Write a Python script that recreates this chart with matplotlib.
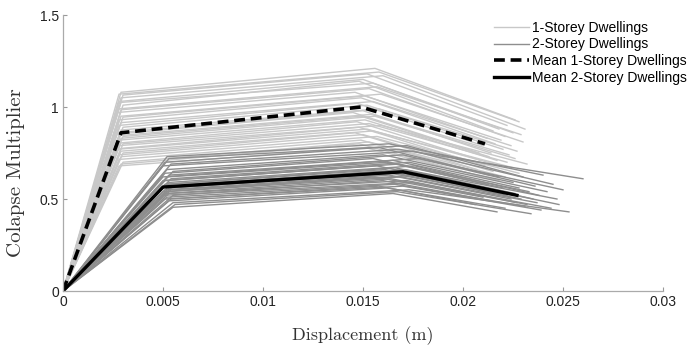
import numpy as np
import matplotlib
matplotlib.use("Agg")
from matplotlib import pyplot as plt

# 1-storey dwellings: yield point, peak point, end point of each pushover curve
one_d1 = [0.0029, 0.0028, 0.0030, 0.0029, 0.0028, 0.0029, 0.0030, 0.0028, 0.0029, 0.0027, 0.0029, 0.0030,
          0.0028, 0.0029, 0.0028, 0.0030, 0.0029, 0.0027, 0.0029, 0.0028, 0.0030, 0.0029, 0.0028, 0.0029,
          0.0030, 0.0028, 0.0029, 0.0027, 0.0029, 0.0030, 0.0028, 0.0029, 0.0028, 0.0030, 0.0029, 0.0028]
one_y1 = [1.08, 1.07, 1.065, 1.05, 1.03, 1.025, 1.01, 0.99, 0.985, 0.97, 0.95, 0.945,
          0.93, 0.915, 0.90, 0.89, 0.875, 0.86, 0.855, 0.845, 0.84, 0.83, 0.82, 0.805,
          0.80, 0.79, 0.775, 0.77, 0.76, 0.75, 0.74, 0.73, 0.715, 0.70, 0.69, 0.68]
one_d2 = [0.0156, 0.0158, 0.0152, 0.0160, 0.0150, 0.0155, 0.0148, 0.0157, 0.0153, 0.0146, 0.0159, 0.0151,
          0.0149, 0.0155, 0.0147, 0.0152, 0.0158, 0.0150, 0.0145, 0.0154, 0.0149, 0.0156, 0.0151, 0.0147,
          0.0153, 0.0159, 0.0148, 0.0152, 0.0155, 0.0146, 0.0150, 0.0157, 0.0149, 0.0153, 0.0148, 0.0151]
one_y2 = [1.21, 1.19, 1.18, 1.17, 1.15, 1.13, 1.14, 1.11, 1.10, 1.08, 1.07, 1.06,
          1.05, 1.03, 1.02, 1.01, 0.99, 0.98, 0.97, 0.96, 0.95, 0.95, 0.93, 0.92,
          0.91, 0.90, 0.89, 0.88, 0.87, 0.86, 0.85, 0.84, 0.82, 0.81, 0.80, 0.78]
one_d3 = [0.0226, 0.0228, 0.0222, 0.0231, 0.0218, 0.0225, 0.0215, 0.0229, 0.0221, 0.0212, 0.0230, 0.0219,
          0.0216, 0.0224, 0.0210, 0.0220, 0.0227, 0.0214, 0.0208, 0.0223, 0.0213, 0.0226, 0.0217, 0.0209,
          0.0222, 0.0232, 0.0211, 0.0219, 0.0225, 0.0207, 0.0215, 0.0228, 0.0213, 0.0221, 0.0210, 0.0218]
one_y3 = [0.93, 0.92, 0.90, 0.88, 0.88, 0.86, 0.87, 0.85, 0.84, 0.83, 0.81, 0.82,
          0.80, 0.79, 0.79, 0.77, 0.76, 0.75, 0.75, 0.74, 0.73, 0.72, 0.71, 0.71,
          0.70, 0.69, 0.68, 0.68, 0.67, 0.66, 0.65, 0.64, 0.63, 0.62, 0.62, 0.60]

# 2-storey dwellings
two_d1 = [0.0052, 0.0053, 0.0051, 0.0054, 0.0050, 0.0052, 0.0055, 0.0051, 0.0053, 0.0050, 0.0052, 0.0054,
          0.0051, 0.0050, 0.0053, 0.0052, 0.0051, 0.0055, 0.0050, 0.0052, 0.0053, 0.0051, 0.0054, 0.0050,
          0.0052, 0.0051, 0.0053, 0.0055, 0.0050, 0.0052, 0.0054, 0.0051, 0.0053, 0.0055, 0.0056, 0.0055]
two_y1 = [0.73, 0.72, 0.70, 0.69, 0.68, 0.66, 0.65, 0.64, 0.63, 0.62, 0.62, 0.61,
          0.60, 0.60, 0.59, 0.58, 0.58, 0.57, 0.57, 0.56, 0.56, 0.55, 0.55, 0.54,
          0.54, 0.53, 0.53, 0.52, 0.52, 0.51, 0.50, 0.50, 0.49, 0.48, 0.47, 0.455]
two_d2 = [0.0163, 0.0172, 0.0158, 0.0168, 0.0175, 0.0160, 0.0170, 0.0155, 0.0178, 0.0165, 0.0162, 0.0173,
          0.0168, 0.0157, 0.0176, 0.0166, 0.0161, 0.0171, 0.0159, 0.0174, 0.0167, 0.0163, 0.0178, 0.0156,
          0.0169, 0.0164, 0.0172, 0.0160, 0.0175, 0.0166, 0.0158, 0.0170, 0.0162, 0.0173, 0.0167, 0.0165]
two_y2 = [0.80, 0.79, 0.78, 0.77, 0.76, 0.74, 0.74, 0.72, 0.72, 0.71, 0.70, 0.70,
          0.69, 0.68, 0.68, 0.67, 0.66, 0.66, 0.65, 0.65, 0.64, 0.63, 0.63, 0.62,
          0.62, 0.61, 0.60, 0.60, 0.59, 0.58, 0.57, 0.57, 0.56, 0.55, 0.54, 0.53]
two_d3 = [0.0240, 0.0230, 0.0218, 0.0260, 0.0245, 0.0225, 0.0236, 0.0212, 0.0250, 0.0228, 0.0220, 0.0242,
          0.0233, 0.0215, 0.0238, 0.0226, 0.0219, 0.0247, 0.0222, 0.0235, 0.0229, 0.0224, 0.0248, 0.0210,
          0.0237, 0.0227, 0.0232, 0.0214, 0.0244, 0.0231, 0.0206, 0.0239, 0.0221, 0.0253, 0.0234, 0.0217]
two_y3 = [0.63, 0.62, 0.62, 0.61, 0.58, 0.59, 0.57, 0.58, 0.55, 0.56, 0.56, 0.54,
          0.54, 0.55, 0.52, 0.53, 0.53, 0.50, 0.52, 0.50, 0.50, 0.50, 0.47, 0.51,
          0.48, 0.48, 0.47, 0.49, 0.45, 0.46, 0.47, 0.44, 0.45, 0.43, 0.42, 0.43]

# mean curves
mean1_x = [0, 0.0029, 0.0149, 0.0211]
mean1_y = [0, 0.86, 1.00, 0.80]
mean2_x = [0, 0.0050, 0.0170, 0.0227]
mean2_y = [0, 0.565, 0.648, 0.52]

xticks = [0, 0.005, 0.01, 0.015, 0.02, 0.025, 0.03]
yticks = [0, 0.5, 1, 1.5]

plt.rcParams['font.family'] = ['Liberation Sans', 'DejaVu Sans']

fig = plt.figure(figsize=(6.88, 3.45), dpi=100)
ax = fig.add_axes([0.0916, 0.1565, 0.872, 0.80])

light = '#c8c8c8'
dark = '#8e8e8e'
for i in range(len(one_d1)):
    ax.plot([0, one_d1[i], one_d2[i], one_d3[i]], [0, one_y1[i], one_y2[i], one_y3[i]],
            color=light, lw=1.0, label='1-Storey Dwellings' if i == 0 else None)
for i in range(len(two_d1)):
    ax.plot([0, two_d1[i], two_d2[i], two_d3[i]], [0, two_y1[i], two_y2[i], two_y3[i]],
            color=dark, lw=1.0, label='2-Storey Dwellings' if i == 0 else None)
ax.plot(mean1_x, mean1_y, color='black', lw=2.6, ls=(0, (3, 1.6)), label='Mean 1-Storey Dwellings')
ax.plot(mean2_x, mean2_y, color='black', lw=2.4, label='Mean 2-Storey Dwellings')

ax.set_xlim(0, 0.03)
ax.set_ylim(0, 1.5)
ax.set_xticks(xticks)
ax.set_xticklabels(['%g' % t for t in xticks])
ax.set_yticks(yticks)
ax.set_yticklabels(['%g' % t for t in yticks])
ax.tick_params(direction='in', length=3, color='#999999', labelsize=10, labelcolor='#222222', pad=3)
for s in ['top', 'right']:
    ax.spines[s].set_visible(False)
for s in ['left', 'bottom']:
    ax.spines[s].set_color('#aaaaaa')
    ax.spines[s].set_linewidth(0.9)

ax.set_xlabel('Displacement (m)', fontfamily='cmr10', fontsize=13, color='#333333', labelpad=12)
ax.set_ylabel('Colapse Multiplier', fontfamily='cmr10', fontsize=15, color='#333333')
ax.yaxis.set_label_coords(-0.063, 0.43)

fig.legend(loc='upper right', bbox_to_anchor=(687 / 688, 0.940), frameon=False, fontsize=10,
           handlelength=2.5, handletextpad=0.25, labelspacing=0.2, borderpad=0, borderaxespad=0)

fig.savefig('out.png', dpi=100)
